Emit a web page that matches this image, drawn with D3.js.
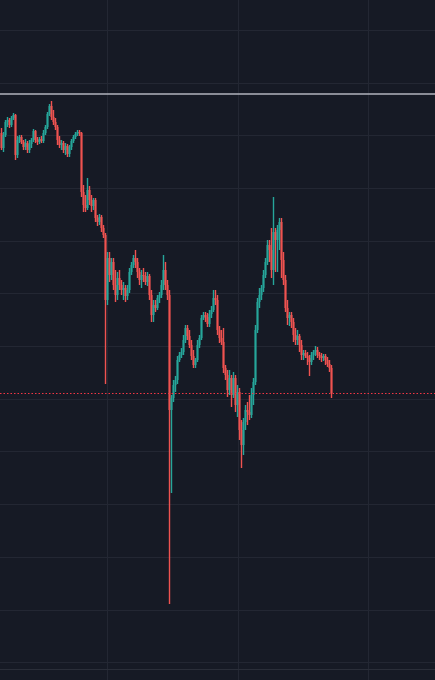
<!DOCTYPE html>
<html><head><meta charset="utf-8">
<script src="https://cdn.jsdelivr.net/npm/d3@7"></script>
<style>html,body{margin:0;padding:0;background:#161a25;}svg{display:block;}</style>
</head><body>
<script>
// Candle data (price units), one entry per bar
const open = [567,552,565,578,580,575,582,585,545,560,563,558,553,557,550,556,560,569,560,558,561,559,567,573,586,594,583,578,573,560,555,557,550,554,546,553,559,563,566,568,567,508,495,492,510,500,494,500,482,478,483,472,465,400,442,425,438,415,405,422,415,410,412,404,410,428,435,442,438,428,420,425,424,418,424,405,385,395,392,402,405,415,430,415,405,290,302,315,320,340,345,348,360,372,364,355,344,335,340,355,362,382,385,383,376,386,390,402,400,370,362,358,332,325,310,322,305,322,295,308,270,255,278,290,288,285,305,318,370,398,405,412,425,438,455,450,430,468,460,470,478,440,420,392,382,385,378,365,360,364,355,345,347,344,342,338,345,348,350,345,344,342,344,340,336,332];
const high = [572,568,580,583,582,584,587,586,564,565,565,560,561,559,560,562,571,570,563,563,564,570,575,588,596,599,590,582,575,564,560,559,557,556,555,561,565,568,570,570,568,515,505,522,514,505,502,502,485,486,485,475,467,448,448,442,442,430,428,430,420,418,415,415,432,438,445,450,442,432,430,432,428,428,426,410,400,400,405,408,420,445,438,420,410,305,320,324,344,348,352,365,375,375,370,360,350,342,360,365,385,388,388,387,390,394,410,410,405,374,370,372,335,330,330,325,328,325,315,312,280,282,295,298,305,312,322,375,402,412,415,430,442,460,460,472,503,472,475,482,482,448,425,400,388,388,382,372,370,366,360,350,350,348,345,348,350,354,353,348,347,346,346,343,340,335];
const low = [550,548,563,573,572,573,580,540,542,557,556,550,550,547,547,552,558,557,555,556,557,557,565,571,584,580,575,570,555,552,550,547,545,543,543,550,557,561,564,564,503,488,488,490,495,488,490,478,474,475,468,462,316,395,418,420,410,398,400,410,405,400,398,400,407,425,432,432,422,415,412,418,415,414,400,378,378,388,390,397,402,410,410,400,96,207,298,308,316,338,342,345,357,360,352,340,332,332,338,352,360,380,378,373,373,382,388,395,365,357,355,327,320,303,305,293,302,288,283,260,232,245,270,275,280,282,295,315,367,392,400,408,422,435,438,422,415,428,428,450,422,415,388,375,374,372,358,355,355,348,340,340,342,335,324,335,340,344,342,340,338,339,335,333,328,302];
const close = [552,565,578,580,575,582,585,545,560,563,558,553,557,550,556,560,569,560,558,561,559,567,573,586,594,583,578,573,560,555,557,550,554,546,553,559,563,566,568,567,508,495,492,510,500,494,500,482,478,483,472,465,400,442,425,438,415,405,422,415,410,412,404,410,428,435,442,438,428,420,425,424,418,424,405,385,395,392,402,405,415,430,415,405,290,302,315,320,340,345,348,360,372,364,355,344,335,340,355,362,382,385,383,376,386,390,402,400,370,362,358,332,325,310,322,305,322,295,308,270,255,278,290,288,285,305,318,370,398,405,412,425,438,455,450,430,468,460,470,478,440,420,392,382,385,378,365,360,364,355,345,347,344,342,338,345,348,350,345,344,342,344,340,336,332,307];

// Grid levels
const gridPrices = [670,617.3,564.6,512,459.3,406.6,353.9,301.2,248.6,195.9,143.2,90.5,37.8];
const gridBars = [53,118.5,183.5];
const levelLine = 606;   // horizontal drawn line
const lastPrice = close[close.length-1];

const W = 435, H = 680;
const upColor = "#26a69a", downColor = "#ef5350";

const svg = d3.select("body").append("svg").attr("width", W).attr("height", H);
svg.append("rect").attr("width", W).attr("height", H).attr("fill", "#161a25");

const x = d3.scaleLinear().domain([0, 1]).range([0, 2]);
const y = d3.scaleLinear().domain([700, 20]).range([0, 680]);

// grid
svg.append("g").selectAll("line").data(gridPrices).join("line")
  .attr("x1", 0).attr("x2", W)
  .attr("y1", d => Math.round(y(d)) + 0.5).attr("y2", d => Math.round(y(d)) + 0.5)
  .attr("stroke", "#232733").attr("stroke-width", 1);
svg.append("g").selectAll("line").data(gridBars).join("line")
  .attr("y1", 0).attr("y2", H)
  .attr("x1", d => Math.round(x(d)) + 1.5).attr("x2", d => Math.round(x(d)) + 1.5)
  .attr("stroke", "#232733").attr("stroke-width", 1);
// time-axis separator
svg.append("line").attr("x1", 0).attr("x2", W).attr("y1", 669.5).attr("y2", 669.5)
  .attr("stroke", "#2a2e39").attr("stroke-width", 1);

// horizontal level line
svg.append("line").attr("x1", 0).attr("x2", W)
  .attr("y1", y(levelLine)).attr("y2", y(levelLine))
  .attr("stroke", "#b2b5be").attr("stroke-width", 1.5);

const idx = d3.range(open.length);
const col = i => close[i] >= open[i] ? upColor : downColor;

const g = svg.append("g");
g.selectAll("rect.wick").data(idx).join("rect").attr("class", "wick")
  .attr("x", i => x(i) + 0.8)
  .attr("width", 1.4)
  .attr("y", i => y(high[i]))
  .attr("height", i => Math.max(1, y(low[i]) - y(high[i])))
  .attr("fill", col);
g.selectAll("rect.body").data(idx).join("rect").attr("class", "body")
  .attr("x", i => x(i) + 0.5)
  .attr("width", 2)
  .attr("y", i => Math.round(y(Math.max(open[i], close[i]))))
  .attr("height", i => Math.max(1, Math.round(Math.abs(y(open[i]) - y(close[i])))))
  .attr("fill", col);

// last price dotted line
svg.append("line").attr("x1", 0).attr("x2", W)
  .attr("y1", Math.round(y(lastPrice)) + 0.5).attr("y2", Math.round(y(lastPrice)) + 0.5)
  .attr("stroke", "#f23645").attr("stroke-width", 1.2).attr("stroke-dasharray", "1.5,2");
</script>
</body></html>
